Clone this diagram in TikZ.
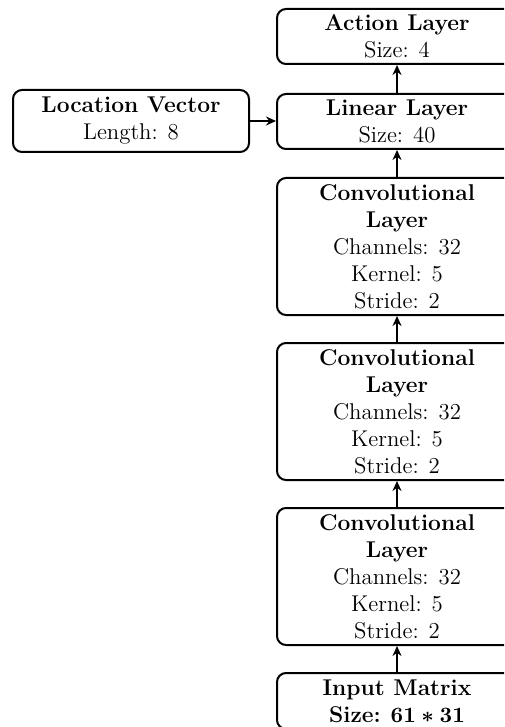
\documentclass[tikz,border=0pt]{standalone}
\usetikzlibrary{arrows.meta}
\begin{document}
\begin{tikzpicture}[x=0.5pt,y=-0.5pt,
  box/.style={draw, line width=1pt, rounded corners=4.5pt, align=center,
    minimum width=120pt, inner sep=2pt, anchor=north west,
    font=\fontsize{11.4}{13.5}\selectfont},
  arr/.style={line width=0.9pt, -{Stealth[length=5pt,width=4.5pt]}}]
\clip (0,0) rectangle (504,727);
\useasboundingbox (0,0) rectangle (504,727);
\node[box, minimum height=27.5pt] (act) at (276,8) {\textbf{Action Layer}\\Size: 4};
\node[box, minimum height=27.5pt] (lin) at (276,93) {\textbf{Linear Layer}\\Size: 40};
\node[box, minimum height=31pt, minimum width=118pt] (loc) at (12,89) {\textbf{Location Vector}\\Length: 8};
\node[box, minimum height=68.5pt] (c1) at (276,177) {\textbf{Convolutional}\\\textbf{Layer}\\Channels: 32\\Kernel: 5\\Stride: 2};
\node[box, minimum height=68.5pt] (c2) at (276,342) {\textbf{Convolutional}\\\textbf{Layer}\\Channels: 32\\Kernel: 5\\Stride: 2};
\node[box, minimum height=68.5pt] (c3) at (276,507) {\textbf{Convolutional}\\\textbf{Layer}\\Channels: 32\\Kernel: 5\\Stride: 2};
\node[box, minimum height=28pt] (inp) at (276,672) {\textbf{Input Matrix}\\\textbf{Size:} {\boldmath$61*31$}};
\draw[arr] (lin.north) -- (act.south);
\draw[arr] (c1.north) -- (lin.south);
\draw[arr] (c2.north) -- (c1.south);
\draw[arr] (c3.north) -- (c2.south);
\draw[arr] (inp.north) -- (c3.south);
\draw[arr] (loc.east) -- (loc.east -| lin.west);
\end{tikzpicture}
\end{document}
